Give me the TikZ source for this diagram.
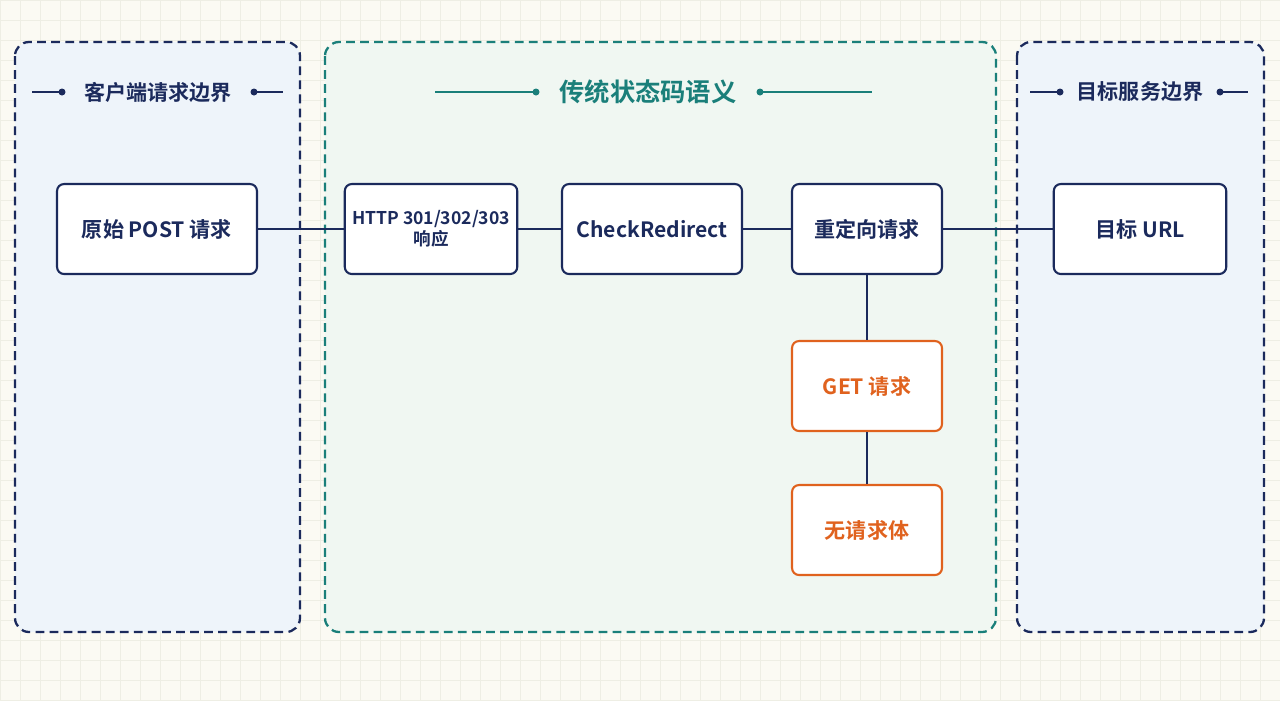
\documentclass[tikz,border=0pt]{standalone}
\usepackage{fontspec}
\setmainfont{Noto Sans CJK SC}[BoldFont={* Bold}]
\usetikzlibrary{positioning}
\definecolor{navy}{HTML}{1B2A5C}
\definecolor{tealc}{HTML}{1A7F7A}
\definecolor{orng}{HTML}{E0621E}
\definecolor{paper}{HTML}{FBFAF3}
\definecolor{gridc}{HTML}{EEEEE4}
\definecolor{bluez}{HTML}{EEF4FA}
\definecolor{greenz}{HTML}{F0F7F2}
\begin{document}
\begin{tikzpicture}[x=0.02cm,y=-0.02cm,font=\bfseries,
  box/.style={draw=navy,line width=1.2pt,rounded corners=4pt,fill=white,inner sep=1pt,minimum width=3.45cm,minimum height=1.8cm,text=navy,font=\large\bfseries,align=center},
  hot/.style={box,draw=orng,text=orng,minimum width=3.0cm},
  zone/.style={dashed,dash pattern=on 5pt off 3pt,line width=1.3pt,rounded corners=8pt},
  link/.style={navy,line width=1.2pt}]
\useasboundingbox[fill=paper] (0,0) rectangle (1280,701);
% grid
\foreach \x in {0,20,...,1280} \draw[gridc,line width=0.3pt] (\x,0)--(\x,701);
\foreach \y in {0,20,...,700} \draw[gridc,line width=0.3pt] (0,\y)--(1280,\y);
% zones
\draw[zone,draw=navy,fill=bluez] (15,42) rectangle (300,632);
\draw[zone,draw=tealc,fill=greenz] (325,42) rectangle (996,632);
\draw[zone,draw=navy,fill=bluez] (1017,42) rectangle (1264,632);
% titles
\node[text=navy,font=\large\bfseries] (tl) at (158,92) {客户端请求边界};
\draw[navy,line width=1.3pt] (32,92)--(62,92) (254,92)--(283,92);
\fill[navy] (62,92) circle (3.5) (254,92) circle (3.5);
\node[text=tealc,font=\Large\bfseries] (tm) at (648,92) {传统状态码语义};
\draw[tealc,line width=1.3pt] (435,92)--(536,92) (760,92)--(872,92);
\fill[tealc] (536,92) circle (3.5) (760,92) circle (3.5);
\node[text=navy,font=\large\bfseries] (tr) at (1140,92) {目标服务边界};
\draw[navy,line width=1.3pt] (1030,92)--(1060,92) (1220,92)--(1248,92);
\fill[navy] (1060,92) circle (3.5) (1220,92) circle (3.5);
% boxes
\node[box,minimum width=4.0cm] (post) at (157,229) {原始 POST 请求};
\node[box,font=\normalsize\bfseries] (resp) at (431,229) {HTTP 301/302/303\\响应};
\node[box,minimum width=3.6cm] (check) at (652,229) {CheckRedirect};
\node[box,minimum width=3.0cm] (redir) at (867,229) {重定向请求};
\node[box] (url) at (1140,229) {目标 URL};
\node[hot] (get) at (867,386) {GET 请求};
\node[hot] (nobody) at (867,530) {无请求体};
% links
\draw[link] (post)--(resp);
\draw[link] (resp)--(check);
\draw[link] (check)--(redir);
\draw[link] (redir)--(url);
\draw[link] (redir)--(get);
\draw[link] (get)--(nobody);
\end{tikzpicture}
\end{document}
